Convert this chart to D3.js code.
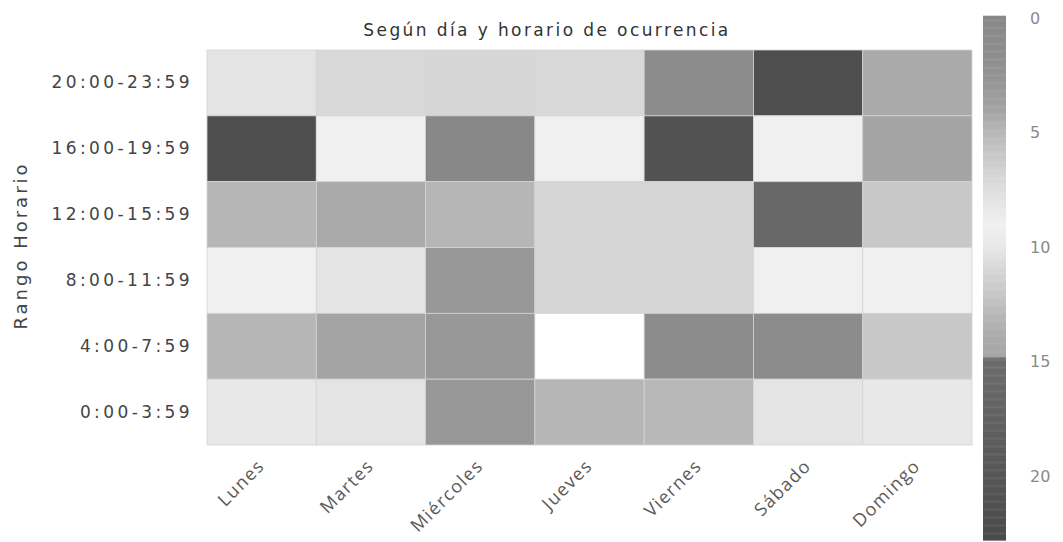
<!DOCTYPE html>
<html>
<head>
<meta charset="utf-8">
<script src="https://cdn.jsdelivr.net/npm/d3@7"></script>
<style>
  body { margin: 0; background: #fff; }
</style>
</head>
<body>
<div id="chart"></div>
<script>
// datos
var dias = ["Lunes", "Martes", "Miércoles", "Jueves", "Viernes", "Sábado", "Domingo"];
var horarios = ["20:00-23:59", "16:00-19:59", "12:00-15:59", "8:00-11:59", "4:00-7:59", "0:00-3:59"];
// una fila por horario, una columna por dia (null = sin dato)
var valores = [
    [8, 7, 11, 7, 1, 22, 14],
    [22, 9, 0, 9, 21, 9, 4],
    [13, 14, 13, 11, 11, 16, 12],
    [9, 8, 3, 11, 11, 9, 9],
    [13, 4, 3, null, 1, 1, 12],
    [10, 8, 3, 13, 5, 8, 10]
];
var ticksEscala = [0, 5, 10, 15, 20];
var zMax = 22.8;
// escala de grises (colorbar escaneada)
var escalaDominio = [0, 1, 2, 3, 4, 5, 6, 7, 8, 9, 10, 11, 12, 13, 14, 14.75, 14.85, 17, 20, 23];
var escalaGris = ["#888", "#8c8c8c", "#909090", "#989898", "#a4a4a4", "#b8b8b8", "#c8c8c8", "#d8d8d8",
    "#e4e4e4", "#f0f0f0", "#e8e8e8", "#d6d6d6", "#c8c8c8", "#b6b6b6", "#aaa", "#a6a6a6",
    "#6c6c6c", "#646464", "#565656", "#4a4a4a"];

var width = 1063, height = 542;
var plot = {left: 207, right: 972, top: 50, bottom: 445};

var svg = d3.select("#chart").append("svg")
    .attr("width", width)
    .attr("height", height);

var x = d3.scaleBand().domain(dias).range([plot.left, plot.right]);
var y = d3.scaleBand().domain(horarios).range([plot.top, plot.bottom]);
var color = d3.scaleLinear().domain(escalaDominio).range(escalaGris).clamp(true);

// celdas
var celdas = [];
valores.forEach(function(fila, i){
    fila.forEach(function(v, j){
        if (v !== null) celdas.push({hora: horarios[i], dia: dias[j], v: v});
    });
});

svg.append("g").selectAll("rect")
    .data(celdas)
    .enter().append("rect")
    .attr("x", function(d){ return x(d.dia); })
    .attr("y", function(d){ return y(d.hora); })
    .attr("width", x.bandwidth())
    .attr("height", y.bandwidth())
    .style("fill", function(d){ return color(d.v); })
    .style("stroke", "#d4d4d4")
    .style("stroke-width", 0.8);

// titulo
svg.append("text")
    .attr("x", 547)
    .attr("y", 36)
    .attr("text-anchor", "middle")
    .style("font-family", "DejaVu Sans")
    .style("font-size", "17px")
    .style("letter-spacing", "2.4px")
    .style("fill", "#333")
    .text("Según día y horario de ocurrencia");

// eje y
var yAxis = svg.append("g")
    .attr("transform", "translate(" + plot.left + ",0)")
    .call(d3.axisLeft(y).tickSize(0).tickPadding(14));
yAxis.select(".domain").remove();
yAxis.selectAll("text")
    .style("font-family", "DejaVu Sans")
    .style("font-size", "17px")
    .style("letter-spacing", "3.4px")
    .style("fill", "#444");

svg.append("text")
    .attr("transform", "translate(27," + ((plot.top + plot.bottom) / 2 - 2) + ") rotate(-90)")
    .attr("text-anchor", "middle")
    .style("font-family", "DejaVu Sans")
    .style("font-size", "18px")
    .style("letter-spacing", "3px")
    .style("fill", "#444")
    .text("Rango Horario");

// eje x, etiquetas giradas
var xAxis = svg.append("g")
    .attr("transform", "translate(0," + plot.bottom + ")")
    .call(d3.axisBottom(x).tickSize(0).tickPadding(0));
xAxis.select(".domain").remove();
xAxis.selectAll("text")
    .attr("text-anchor", "end")
    .attr("dy", 0)
    .attr("transform", "translate(4,22) rotate(-45)")
    .style("font-family", "Open Sans")
    .style("font-size", "18px")
    .style("letter-spacing", "1.4px")
    .style("fill", "#5a5a5a");

// barra de color
var yc = d3.scaleLinear().domain([0, 20]).range([18, 476]);
var barra = svg.append("g");
var pasos = d3.range(-0.1, zMax, 0.05);
barra.selectAll("rect")
    .data(pasos)
    .enter().append("rect")
    .attr("x", 983)
    .attr("width", 23)
    .attr("y", function(d){ return yc(d); })
    .attr("height", yc(0.05) - yc(0) + 0.5)
    .style("fill", function(d){ return color(d); });

var eje = svg.append("g")
    .attr("transform", "translate(1006,0)")
    .call(d3.axisRight(yc).tickValues(ticksEscala).tickSize(0).tickPadding(24));
eje.select(".domain").remove();
eje.selectAll("text")
    .style("font-family", "DejaVu Sans")
    .style("font-size", "16px")
    .style("fill", "#8a8a8a");
</script>
</body>
</html>
